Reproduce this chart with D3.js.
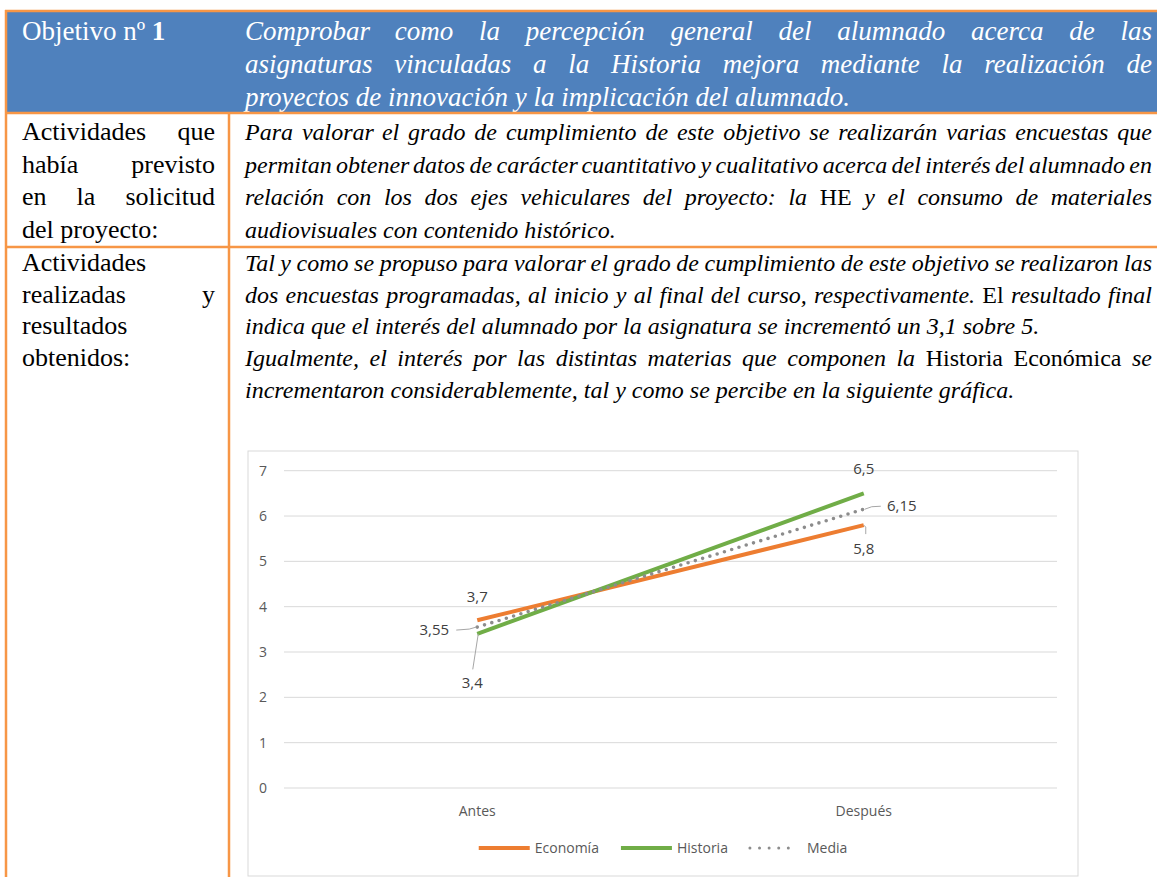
<!DOCTYPE html>
<html>
<head>
<meta charset="utf-8">
<script src="https://cdn.jsdelivr.net/npm/d3@7"></script>
<style>
  body { margin: 0; background: #fff; }
  svg { display: block; }
</style>
</head>
<body>
<svg id="pagina" width="1157" height="877"></svg>
<script>
// ---- datos del gráfico ----
const categorias = ["Antes", "Después"]
const economia = [3.7, 5.8]
const historia = [3.4, 6.5]
const media = [3.55, 6.15]
const ticksY = [0, 1, 2, 3, 4, 5, 6, 7]

// ---- textos de la tabla, una entrada por línea ----
const objetivoLineas = [
  "Comprobar como la percepción general del alumnado acerca de las",
  "asignaturas vinculadas a la Historia mejora mediante la realización de",
  "proyectos de innovación y la implicación del alumnado."
]
const previstoEtiqueta = ["Actividades que", "había previsto", "en la solicitud", "del proyecto:"]
const previstoTexto = [
  "Para valorar el grado de cumplimiento de este objetivo se realizarán varias encuestas que",
  "permitan obtener datos de carácter cuantitativo y cualitativo acerca del interés del alumnado en",
  "relación con los dos ejes vehiculares del proyecto: la HE y el consumo de materiales",
  "audiovisuales con contenido histórico."
]
const realizadoEtiqueta = ["Actividades", "realizadas y", "resultados", "obtenidos:"]
const realizadoTexto = [
  "Tal y como se propuso para valorar el grado de cumplimiento de este objetivo se realizaron las",
  "dos encuestas programadas, al inicio y al final del curso, respectivamente. El resultado final",
  "indica que el interés del alumnado por la asignatura se incrementó un 3,1 sobre 5.",
  "Igualmente, el interés por las distintas materias que componen la Historia Económica se",
  "incrementaron considerablemente, tal y como se percibe en la siguiente gráfica."
]
// palabras que en el original salen en letra recta
const rectas = new Set(["HE", "El", "Historia", "Económica"])

const NARANJA = "#F79646", AZUL = "#4F81BD"
const SERIF = "'Liberation Serif', 'Times New Roman', serif"
const SANS = "'Open Sans', 'Noto Sans', sans-serif"

const svg = d3.select("#pagina")

// ---- tabla ----
svg.append("rect").attr("x", 5).attr("y", 10).attr("width", 1152).attr("height", 103).attr("fill", AZUL)

// escribe una línea justificada palabra a palabra
function linea(g, texto, x0, x1, y, o) {
  const palabras = texto.split(" ")
  const t = g.append("text").attr("y", y)
    .style("font-family", SERIF)
    .style("font-style", o.italic ? "italic" : "normal")
    .attr("fill", o.color || "#000")
  let size = o.size
  let spans = palabras.map(p => t.append("tspan").text(p)
    .style("font-style", o.rectas && o.rectas.has(p) ? "normal" : null))
  let anchos, total, hueco
  const justificar = palabras.length > 1 && !/[.:]$/.test(texto)
  for (let k = 0; k < 6; k++) {
    t.style("font-size", size + "px")
    anchos = spans.map(s => s.node().getComputedTextLength())
    total = d3.sum(anchos)
    const esp = size * 0.25
    hueco = justificar ? (x1 - x0 - total) / (palabras.length - 1) : esp
    if (hueco >= esp * 0.7) break
    // no cabe: se reduce un poco la letra
    size = size * (x1 - x0 - esp * 0.7 * (palabras.length - 1)) / total
  }
  let x = x0
  spans.forEach((s, i) => { s.attr("x", x); x += anchos[i] + hueco })
}

const tabla = svg.append("g")

// cabecera
const cab = tabla.append("text").attr("x", 22).attr("y", 40)
  .style("font-family", SERIF).style("font-size", "27px").attr("fill", "#fff")
cab.append("tspan").text("Objetivo nº ")
cab.append("tspan").style("font-weight", "bold").text("1")
objetivoLineas.forEach((l, i) => linea(tabla, l, 245, 1152, 40 + i * 33, {size: 27, italic: true, color: "#fff"}))

previstoEtiqueta.forEach((l, i) => linea(tabla, l, 22, 215, 140 + i * 32.5, {size: 26}))
previstoTexto.forEach((l, i) => linea(tabla, l, 245, 1152, 140 + i * 32.5, {size: 24, italic: true, rectas}))

realizadoEtiqueta.forEach((l, i) => linea(tabla, l, 22, 215, 271 + i * 31.7, {size: 26}))
realizadoTexto.forEach((l, i) => linea(tabla, l, 245, 1152, 271 + i * 31.7, {size: 24, italic: true, rectas}))

const bordes = [
  [5, 11, 1157, 11], [6, 10, 6, 877], [5, 113, 1157, 113],
  [229, 113, 229, 877], [5, 247, 1157, 247]
]
tabla.selectAll("line.borde").data(bordes).enter().append("line")
  .attr("x1", d => d[0]).attr("y1", d => d[1]).attr("x2", d => d[2]).attr("y2", d => d[3])
  .attr("stroke", NARANJA).attr("stroke-width", 2.5)

// ---- gráfico ----
const CH = {LEFT: 248, TOP: 451, RIGHT: 1078, BOTTOM: 876}
const PLOT = {LEFT: 284, RIGHT: 1057, TOP: 470.7, BOTTOM: 788}

const g = svg.append("g").style("font-family", SANS)
g.append("rect")
  .attr("x", CH.LEFT).attr("y", CH.TOP)
  .attr("width", CH.RIGHT - CH.LEFT).attr("height", CH.BOTTOM - CH.TOP)
  .attr("fill", "#fff").attr("stroke", "#d9d9d9")

const x = d3.scaleBand().domain(categorias).range([PLOT.LEFT, PLOT.RIGHT])
const cx = c => x(c) + x.bandwidth() / 2
const y = d3.scaleLinear().domain([0, 7]).range([PLOT.BOTTOM, PLOT.TOP])

g.append("g").selectAll("line").data(ticksY).enter().append("line")
  .attr("x1", PLOT.LEFT).attr("x2", PLOT.RIGHT)
  .attr("y1", d => y(d)).attr("y2", d => y(d))
  .attr("stroke", "#d9d9d9").attr("stroke-width", 1)

g.append("g").selectAll("text").data(ticksY).enter().append("text")
  .attr("x", 263).attr("y", d => y(d)).attr("dy", "0.35em")
  .attr("text-anchor", "middle").attr("fill", "#595959").style("font-size", "14px")
  .text(d => d)

g.append("g").selectAll("text").data(categorias).enter().append("text")
  .attr("x", d => cx(d)).attr("y", 811).attr("dy", "0.35em")
  .attr("text-anchor", "middle").attr("fill", "#595959").style("font-size", "14px")
  .text(d => d)

const series = [
  {nombre: "Economía", valores: economia, color: "#ED7D31", dash: null},
  {nombre: "Historia", valores: historia, color: "#70AD47", dash: null},
  {nombre: "Media", valores: media, color: "#8C8C8C", dash: "0 7.6"}
]
// colocación de las etiquetas de datos (desplazamiento respecto al punto y línea guía)
const etiquetas = {
  "Economía": [{dx: 0, dy: -24}, {dx: 0, dy: 23.5, guia: [[0, 0], [2, 2], [2, 9]]}],
  "Historia": [{dx: -5, dy: 49, guia: [[1, 0], [-4.5, 35.5]]}, {dx: 0, dy: -25}],
  "Media": [{dx: -43, dy: 3, guia: [[-21, 3], [-8, 2], [-1, 0]]}, {dx: 38, dy: -3, guia: [[1, 0], [8, -2.5], [17, -3]]}]
}
const fmt = v => String(v).replace(".", ",")

const linePath = d3.line().x(d => cx(d.c)).y(d => y(d.v))
series.forEach(s => {
  const pts = categorias.map((c, i) => ({c, v: s.valores[i]}))
  const p = g.append("path").datum(pts).attr("d", linePath)
    .attr("fill", "none").attr("stroke", s.color)
    .attr("stroke-width", s.dash ? 3.6 : 4)
  if (s.dash) p.attr("stroke-dasharray", s.dash).attr("stroke-linecap", "round")
})

series.forEach(s => {
  categorias.forEach((c, i) => {
    const e = etiquetas[s.nombre][i]
    const px = cx(c), py = y(s.valores[i])
    if (e.guia) {
      g.append("path").datum(e.guia)
        .attr("d", d3.line().x(d => px + d[0]).y(d => py + d[1]))
        .attr("fill", "none").attr("stroke", "#a6a6a6").attr("stroke-width", 1)
    }
    g.append("text").attr("x", px + e.dx).attr("y", py + e.dy).attr("dy", "0.35em")
      .attr("text-anchor", "middle").attr("fill", "#404040").style("font-size", "15px")
      .text(fmt(s.valores[i]))
  })
})

// leyenda
const ley = g.append("g")
let lx = 0
series.forEach(s => {
  const it = ley.append("g").attr("transform", `translate(${lx},0)`)
  const ml = s.dash ? 48 : 51
  const l = it.append("line").attr("x1", 0).attr("x2", ml).attr("y1", 0).attr("y2", 0)
    .attr("stroke", s.color).attr("stroke-width", s.dash ? 3 : 4)
  if (s.dash) l.attr("stroke-dasharray", "0 9.6").attr("stroke-linecap", "round")
  const t = it.append("text").attr("x", ml + (s.dash ? 9 : 5)).attr("dy", "0.35em")
    .attr("fill", "#595959").style("font-size", "14px").text(s.nombre)
  lx += ml + (s.dash ? 9 : 5) + t.node().getComputedTextLength() + 22
})
const anchoLey = lx - 22
ley.attr("transform", `translate(${(CH.LEFT + CH.RIGHT) / 2 - anchoLey / 2},848)`)
</script>
</body>
</html>
